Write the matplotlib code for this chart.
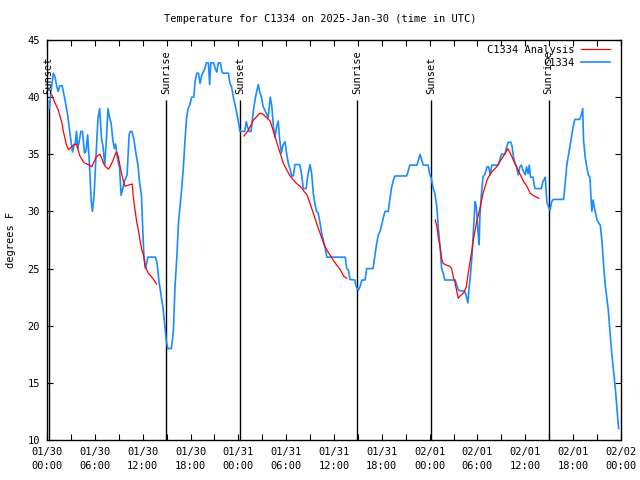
import numpy as np
import matplotlib
matplotlib.use("Agg")
import matplotlib.pyplot as plt

# horas desde 2025-01-30 00:00 UTC e temperatura (F) da estacao
obs_hours = [0.3, 0.5, 0.8, 1.0, 1.2, 1.4, 1.6, 1.9, 2.1, 2.3, 2.6, 2.9, 3.2, 3.4, 3.55, 3.7,
             3.85, 4.0, 4.25, 4.45, 4.7, 4.9, 5.1, 5.3, 5.55, 5.7, 5.9, 6.15, 6.4, 6.6, 6.85, 7.0,
             7.25, 7.45, 7.65, 7.85, 8.05, 8.25, 8.45, 8.6, 8.85, 9.1, 9.3, 9.5, 9.7, 10.05, 10.3,
             10.45, 10.65, 10.9, 11.2, 11.4, 11.6, 11.85, 12.0, 12.15, 12.35, 12.5, 12.65, 13.6,
             13.8, 14.05, 14.3, 14.55, 14.75, 14.95, 15.15, 15.6, 15.85, 16.05, 16.3, 16.5, 16.7,
             16.9, 17.1, 17.3, 17.5, 17.7, 17.9, 18.15, 18.4, 18.6, 18.8, 19.0, 19.2, 19.4, 19.6,
             19.8, 20.0, 20.25, 20.4, 20.55, 20.9, 21.1, 21.3, 21.5, 21.75, 21.95, 22.1, 22.75,
             22.95, 23.15, 23.4, 23.6, 23.8, 24.0, 24.2, 24.8, 25.0, 25.15, 25.35, 25.6, 25.9,
             26.15, 26.5, 26.7, 26.9, 27.1, 27.3, 27.5, 27.75, 28.0, 28.2, 28.4, 28.6, 28.8, 29.0,
             29.2, 29.4, 29.6, 29.85, 30.05, 30.3, 30.5, 30.7, 30.9, 31.1, 31.7, 31.9, 32.15, 32.5,
             32.75, 33.0, 33.2, 33.4, 33.6, 33.8, 34.0, 34.25, 34.45, 34.7, 34.9, 35.1, 37.4, 37.6,
             37.8, 38.0, 38.6, 38.8, 39.05, 39.25, 39.5, 39.9, 40.1, 40.9, 41.1, 41.35, 41.55, 41.8,
             42.0, 42.2, 42.4, 42.8, 43.0, 43.2, 43.45, 43.65, 45.1, 45.3, 45.5, 46.4, 46.6, 46.8,
             47.0, 47.2, 47.8, 48.0, 48.2, 48.45, 48.65, 48.9, 49.1, 49.3, 49.5, 49.7, 49.9, 51.2,
             51.6, 52.4, 52.6, 52.8, 52.9, 53.1, 53.3, 53.5, 53.7, 53.85, 54.05, 54.2, 54.3, 54.5,
             54.7, 54.9, 55.2, 55.4, 55.6, 55.8, 56.6, 56.8, 57.0, 57.45, 57.65, 57.85, 58.2, 58.35,
             58.5, 58.7, 58.9, 59.1, 59.3, 59.5, 59.7, 60.0, 60.15, 60.35, 60.5, 60.65, 60.95, 61.2,
             62.0, 62.2, 62.5, 62.7, 62.9, 63.1, 63.3, 63.5, 64.8, 65.0, 65.2, 65.4, 65.6, 65.8,
             66.0, 66.2, 66.8, 67.0, 67.2, 67.3, 67.5, 67.7, 67.9, 68.1, 68.25, 68.35, 68.5, 68.7,
             69.0, 69.2, 69.4, 69.6, 69.8, 70.0, 70.2, 70.4, 70.5, 70.8, 71.3, 71.7]
obs_temp = [39.0, 40.5, 42.1, 41.8, 41.0, 40.5, 41.0, 41.0, 40.3, 39.6, 38.4, 36.7, 35.2, 35.8, 36.0, 37.0,
            35.5, 36.0, 37.0, 37.0, 35.1, 35.3, 36.7, 34.4, 30.9, 30.0, 31.4, 34.9, 38.2, 39.0, 36.3, 35.8,
            34.1, 36.3, 39.0, 38.2, 37.7, 36.3, 35.5, 35.9, 34.6, 33.8, 31.4, 32.0, 32.6, 33.2, 36.7,
            37.0, 37.0, 36.3, 34.9, 34.1, 32.6, 31.4, 28.6, 26.2, 25.0, 25.5, 26.0, 26.0,
            25.5, 23.85, 22.7, 21.55, 20.2, 18.75, 18.0, 18.0, 19.5, 23.3, 26.2, 29.1, 30.6,
            32.05, 33.8, 36.1, 38.15, 39.0, 39.3, 40.0, 40.0, 41.5, 42.1, 42.1, 41.2, 41.9, 42.2,
            42.5, 43.0, 43.0, 41.1, 43.0, 43.0, 42.5, 42.2, 43.0, 43.0, 42.2, 42.1, 42.1,
            41.2, 40.9, 39.9, 39.3, 38.6, 37.85, 37.0, 37.0, 37.85, 37.4, 37.0, 37.0, 38.9,
            40.0, 41.1, 40.4, 40.0, 39.2, 38.9, 38.6, 38.2, 40.0, 39.2, 37.4, 36.5, 37.4, 37.9,
            36.2, 35.1, 35.8, 36.1, 35.1, 34.1, 33.7, 33.1, 33.1, 34.1, 34.1, 33.4, 32.0, 32.0,
            33.3, 34.1, 33.3, 31.6, 30.7, 30.0, 29.9, 29.0, 28.1, 27.35, 26.8, 26.0, 26.0, 25.0,
            24.9, 24.05, 24.0, 23.4, 23.1, 23.4, 24.0, 24.0, 25.0, 25.0, 26.0, 27.2, 27.9, 28.3,
            28.9, 29.5, 30.0, 30.0, 31.0, 32.0, 32.75, 33.1, 33.1, 33.5, 34.05, 34.05, 34.5, 35.0,
            34.5, 34.05, 34.05, 33.3, 32.9, 32.0, 31.6, 30.4, 28.4, 27.0, 25.0, 24.6, 24.0, 24.0,
            23.1, 23.0, 22.55, 22.0, 23.0, 24.3, 26.05, 28.4, 30.85, 30.4, 28.4, 27.1, 29.6, 31.6,
            33.05, 33.2, 33.9, 33.9, 33.2, 34.05, 34.05, 34.5, 35.0, 35.0, 35.65, 36.05, 36.05, 35.65,
            34.8, 34.2, 33.9, 33.2, 33.9, 34.05, 33.6, 33.2, 33.9, 33.3, 34.05, 33.0, 33.0, 32.0,
            32.0, 32.6, 33.0, 30.85, 30.4, 30.1, 30.85, 31.05, 31.05, 32.45, 34.05, 34.9, 35.8, 36.6,
            37.4, 38.05, 38.05, 38.4, 39.0, 36.25, 34.8, 33.9, 33.2, 33.0, 31.0, 30.0, 31.0, 30.2,
            29.25, 29.0, 28.8, 27.5, 25.5, 23.7, 22.55, 21.4, 20.5, 17.9, 14.4, 11.0]

# analise (tres trechos, separados por nan)
ana_hours = [0.6, 1.0, 1.4, 1.6, 1.85, 2.05, 2.25, 2.45, 2.7, 3.0, 3.3, 3.7, 3.9, 4.1, 4.55, 4.8,
             5.2, 5.6, 5.8, 6.0, 6.2, 6.65, 6.9, 7.1, 7.3, 7.7, 7.9, 8.1, 8.3, 8.5, 8.7, 8.95, 9.2,
             9.4, 9.6, 9.8, 10.2, 10.7, 10.8, 11.0, 11.25, 11.45, 11.7, 11.9, 12.1, 12.3, 12.5,
             12.7, 13.1, 13.55, 13.75, np.nan,
             24.7, 25.25, 25.9, 26.3, 26.7, 27.1, 27.55, 28.0, 28.4, 28.8, 29.2, 29.65, 30.1, 30.5,
             30.9, 31.3, 31.75, 32.2, 32.6, 33.0, 33.4, 33.8, 34.25, 34.7, 35.1, 35.5, 35.9, 36.35,
             36.8, 37.2, 37.6, np.nan,
             48.7, 48.9, 49.1, 49.3, 49.5, 49.7, 50.1, 50.55, 50.75, 50.95, 51.2, 51.4, 51.6, 51.8,
             52.25, 52.6, 52.8, 53.1, 53.3, 53.5, 53.9, 54.35, 54.7, 55.2, 55.6, 56.0, 56.4, 56.8,
             57.3, 57.8, 58.1, 58.5, 58.9, 59.3, 59.8, 60.2, 60.6, 61.0, 61.4, 61.7]
ana_temp = [40.2, 39.5, 38.9, 38.4, 37.8, 37.0, 36.4, 35.8, 35.4, 35.6, 35.8, 35.9, 35.4, 34.9, 34.35, 34.2,
            34.1, 33.9, 34.2, 34.5, 34.8, 35.0, 34.6, 34.2, 33.95, 33.7, 33.9, 34.2, 34.5, 34.9, 35.2, 34.8, 33.8,
            33.2, 32.6, 32.2, 32.3, 32.4, 31.4, 30.3, 29.1, 28.4, 27.35, 26.6, 26.2, 25.2, 24.9,
            24.6, 24.3, 23.85, 23.65, np.nan,
            36.6, 37.1, 38.0, 38.3, 38.6, 38.5, 38.2, 37.9, 37.0, 36.1, 35.2, 34.2, 33.6, 33.1,
            32.75, 32.45, 32.2, 31.8, 31.45, 30.7, 29.85, 29.0, 28.1, 27.2, 26.6, 26.2, 25.75, 25.3,
            24.9, 24.35, 24.15, np.nan,
            29.25, 28.7, 27.65, 26.9, 25.9, 25.45, 25.3, 25.2, 25.0, 24.3, 23.7, 23.0, 22.4, 22.6,
            22.85, 23.4, 24.4, 25.75, 26.6, 27.6, 29.1, 30.4, 31.6, 32.75, 33.3, 33.6, 33.9, 34.35,
            34.9, 35.5, 35.1, 34.5, 33.9, 33.3, 32.6, 32.2, 31.6, 31.4, 31.25, 31.15]

sun_hours = [0.2, 14.95, 24.2, 38.93, 48.22, 62.92]
sun_labels = ["Sunset", "Sunrise", "Sunset", "Sunrise", "Sunset", "Sunrise"]

tick_hours = list(range(0, 73, 6))
tick_labels = ["01/30\n00:00", "01/30\n06:00", "01/30\n12:00", "01/30\n18:00",
               "01/31\n00:00", "01/31\n06:00", "01/31\n12:00", "01/31\n18:00",
               "02/01\n00:00", "02/01\n06:00", "02/01\n12:00", "02/01\n18:00",
               "02/02\n00:00"]

fs = 7.5
plt.rcParams['font.family'] = ['DejaVu Sans Mono']

fig = plt.figure(figsize=(6.4, 4.8), dpi=100)
ax = fig.add_axes([47 / 640, 40 / 480, 574 / 640, 400 / 480])

ax.plot(ana_hours, ana_temp, color='#ff0000', lw=0.9, label='C1334 Analysis', zorder=3)
ax.plot(obs_hours, obs_temp, color='#1a8cff', lw=1.2, label='C1334', zorder=2)

# linhas do nascer/por do sol
ax.vlines(sun_hours, 10, 39.75, color='black', lw=1.0, zorder=1)
for h, lab in zip(sun_hours, sun_labels):
    ax.text(h, 40.25, lab, rotation=90, ha='center', va='bottom', fontsize=fs)

ax.set_xlim(0, 72)
ax.set_ylim(10, 45)
ax.set_xticks(tick_hours)
ax.set_xticklabels(tick_labels, linespacing=1.5)
ax.set_xticks(range(3, 72, 6), minor=True)
ax.set_yticks(range(10, 46, 5))
ax.tick_params(which='both', direction='in', length=4, width=0.8, top=True, right=True,
               labelsize=fs, pad=5)

for s in ax.spines.values():
    s.set_linewidth(1.0)

ax.set_ylabel('degrees F', fontsize=fs, labelpad=8)
fig.text(0.5, 1 - 19 / 480, 'Temperature for C1334 on 2025-Jan-30 (time in UTC)',
         ha='center', va='center', fontsize=fs)

ax.legend(loc='upper right', bbox_to_anchor=((610 - 47) / 574, (440 - 45) / 400),
          markerfirst=False, frameon=False, fontsize=fs, borderpad=0, borderaxespad=0,
          handlelength=2.8, handletextpad=0.6, labelspacing=0.3)

fig.savefig('out.png', dpi=100)
